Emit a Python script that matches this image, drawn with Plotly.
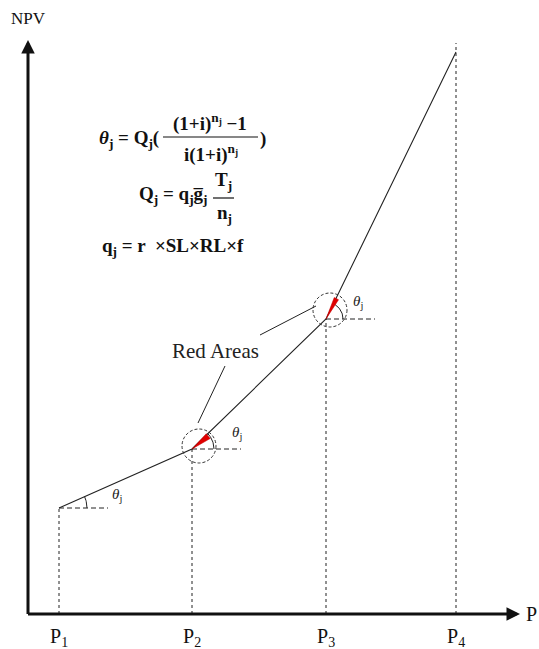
import numpy as np
import plotly.graph_objects as go

# ---- data (schematic units, y measured upward from bottom) ----
P_labels = ["P<sub>1</sub>", "P<sub>2</sub>", "P<sub>3</sub>", "P<sub>4</sub>"]
P_x = [59, 192, 326, 456]
NPV = [141, 200, 330, 597]
P4_top = 606
origin = (28, 35)
x_axis_end = 520
y_axis_end = 609

# angle marks (degrees) at P1..P3 and arc radius
arc_radius = [28, 22, 17]
# red areas at P2, P3: (start angle, end angle, length)
red_areas = [(30, 47, 21), (57, 69, 23)]
red_idx = [1, 2]
circle_offset = [(7, 3), (4, 9)]
circle_r = 17

FONT = "Times New Roman, Liberation Serif, serif"

fig = go.Figure()

# vertical dashed guides
tops = NPV[:3] + [P4_top]
for px, top in zip(P_x, tops):
    fig.add_trace(go.Scatter(x=[px, px], y=[origin[1], top], mode="lines",
                             line=dict(color="#222", width=1, dash="3px,3px"),
                             hoverinfo="skip"))

# horizontal dashed at P1..P3
for px, v in zip(P_x[:3], NPV[:3]):
    fig.add_trace(go.Scatter(x=[px, px + 49], y=[v, v], mode="lines",
                             line=dict(color="#222", width=1, dash="5px,3px"),
                             hoverinfo="skip"))

# main NPV curve
fig.add_trace(go.Scatter(x=P_x, y=NPV, mode="lines",
                         line=dict(color="#222", width=1.1), hoverinfo="skip"))

# angle arcs
for k in range(3):
    ang = np.degrees(np.arctan2(NPV[k + 1] - NPV[k], P_x[k + 1] - P_x[k]))
    t = np.radians(np.linspace(0, ang, 20))
    r = arc_radius[k]
    fig.add_trace(go.Scatter(x=P_x[k] + r * np.cos(t), y=NPV[k] + r * np.sin(t),
                             mode="lines", line=dict(color="#222", width=1),
                             hoverinfo="skip"))

shapes = []
# red areas
for (a0, a1, L), k in zip(red_areas, red_idx):
    cx, cy = P_x[k], NPV[k]
    p = f"M {cx} {cy} L {cx + L*np.cos(np.radians(a0)):.2f} {cy + L*np.sin(np.radians(a0)):.2f} " \
        f"L {cx + L*np.cos(np.radians(a1)):.2f} {cy + L*np.sin(np.radians(a1)):.2f} Z"
    shapes.append(dict(type="path", path=p, fillcolor="#e00000",
                       line=dict(color="#c00000", width=0.5), layer="above"))

# dashed circles
for (dx, dy), k in zip(circle_offset, red_idx):
    cx, cy = P_x[k] + dx, NPV[k] + dy
    shapes.append(dict(type="circle", x0=cx - circle_r, x1=cx + circle_r,
                       y0=cy - circle_r, y1=cy + circle_r,
                       line=dict(color="#333", width=1, dash="3px,2px")))

# pointer lines from "Red Areas"
shapes.append(dict(type="line", x0=225, y0=283, x1=198, y1=226,
                   line=dict(color="#222", width=1)))
shapes.append(dict(type="line", x0=260, y0=314, x1=316, y1=343,
                   line=dict(color="#222", width=1)))

# fraction bars
shapes.append(dict(type="line", x0=163, y0=512, x1=258, y1=512,
                   line=dict(color="#111", width=1.2)))
shapes.append(dict(type="line", x0=213, y0=451, x1=234, y1=451,
                   line=dict(color="#111", width=1.2)))

annotations = []
# axes with arrows
annotations.append(dict(x=origin[0], y=y_axis_end, ax=origin[0], ay=origin[1] - 1.5,
                        xref="x", yref="y", axref="x", ayref="y", text="",
                        showarrow=True, arrowhead=2, arrowsize=0.9, arrowwidth=3,
                        arrowcolor="#111", standoff=0))
annotations.append(dict(x=x_axis_end, y=origin[1], ax=origin[0] - 1.5, ay=origin[1],
                        xref="x", yref="y", axref="x", ayref="y", text="",
                        showarrow=True, arrowhead=2, arrowsize=0.9, arrowwidth=3,
                        arrowcolor="#111", standoff=0))
annotations.append(dict(x=28, y=631, text="NPV", showarrow=False,
                        font=dict(family=FONT, size=17, color="#111")))
annotations.append(dict(x=524, y=35, text="P", showarrow=False, xanchor="left",
                        font=dict(family=FONT, size=20, color="#111")))
for lab, px in zip(P_labels, P_x):
    annotations.append(dict(x=px, y=12, text=lab, showarrow=False,
                            font=dict(family=FONT, size=20, color="#111")))

# theta labels
theta_pos = [(117, 154), (237, 216), (358, 347)]
for tx, ty in theta_pos:
    annotations.append(dict(x=tx, y=ty, text="<i>θ</i><sub>j</sub>", showarrow=False,
                            font=dict(family=FONT, size=15, color="#222")))

annotations.append(dict(x=215, y=298, text="Red Areas", showarrow=False,
                        font=dict(family=FONT, size=21, color="#222")))

# formulas
ff = dict(family=FONT, size=19, color="#111")
annotations.append(dict(x=161, y=510, xanchor="right", showarrow=False, font=ff,
                        text="<b><i>θ</i><sub>j</sub> = Q<sub>j</sub>(</b>"))
annotations.append(dict(x=210, y=527, showarrow=False, font=ff,
                        text="<b>(1+i)<sup>n<sub>j</sub></sup> −1</b>"))
annotations.append(dict(x=211, y=496, showarrow=False, font=ff,
                        text="<b>i(1+i)<sup>n<sub>j</sub></sup></b>"))
annotations.append(dict(x=263, y=510, showarrow=False, font=ff, text="<b>)</b>"))

annotations.append(dict(x=210, y=454, xanchor="right", showarrow=False, font=ff,
                        text="<b>Q<sub>j</sub> = q<sub>j</sub>g\u0305<sub>j</sub></b>"))
annotations.append(dict(x=223, y=468, showarrow=False, font=ff,
                        text="<b>T<sub>j</sub></b>"))
annotations.append(dict(x=224, y=435, showarrow=False, font=ff,
                        text="<b>n<sub>j</sub></b>"))
annotations.append(dict(x=100, y=402, xanchor="left", showarrow=False, font=ff,
                        text="<b>q<sub>j</sub> = r &nbsp;×SL×RL×f</b>"))

fig.update_layout(width=539, height=649, margin=dict(l=0, r=0, t=0, b=0),
                  paper_bgcolor="white", plot_bgcolor="white", showlegend=False,
                  xaxis=dict(range=[0, 539], visible=False, fixedrange=True),
                  yaxis=dict(range=[0, 649], visible=False, fixedrange=True),
                  shapes=shapes, annotations=annotations)

fig.write_html("out.html", config={"displayModeBar": False, "staticPlot": True},
               post_script="document.body.style.margin='0';document.body.style.overflow='hidden';")
